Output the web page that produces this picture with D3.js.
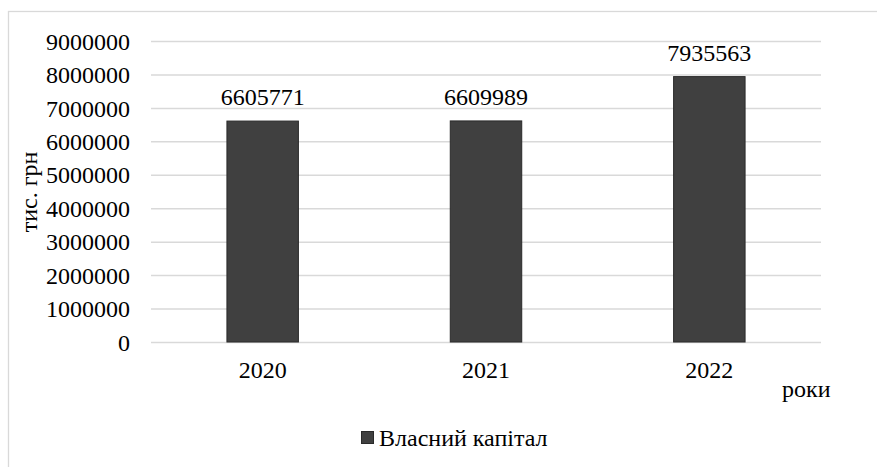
<!DOCTYPE html>
<html>
<head>
<meta charset="utf-8">
<script src="https://cdn.jsdelivr.net/npm/d3@7"></script>
</head>
<body style="margin:0;padding:0;background:#fff">
<svg id="chart" width="877" height="467" font-family="Liberation Serif" style="display:block"></svg>
<script>
// Власний капітал по роках, тис. грн
const years = ["2020", "2021", "2022"];
const equity = [6605771, 6609989, 7935563];
const yTickValues = [0, 1000000, 2000000, 3000000, 4000000, 5000000, 6000000, 7000000, 8000000, 9000000];
const seriesName = "Власний капітал";
const yTitle = "тис. грн";
const xTitle = "роки";

const W = 877, H = 467;
const plot = { left: 151, right: 821, top: 41, bottom: 342 };
const fontSize = 24;
const serif = "Liberation Serif";

const svg = d3.select("#chart");

// chart area frame
svg.append("rect")
  .attr("x", 8.5).attr("y", 11.5)
  .attr("width", W + 10).attr("height", H + 10)
  .attr("fill", "#fff")
  .attr("stroke", "#d9d9d9")
  .attr("stroke-width", 1.3);

const x = d3.scaleBand()
  .domain(years)
  .range([plot.left, plot.right])
  .paddingInner(0.68)
  .paddingOuter(0.34);

const y = d3.scaleLinear()
  .domain([0, 9000000])
  .range([plot.bottom, plot.top]);

// horizontal gridlines
const grid = svg.append("g")
  .attr("transform", `translate(${plot.left},0)`)
  .call(d3.axisLeft(y).tickValues(yTickValues).tickSize(-(plot.right - plot.left)).tickFormat(""));
grid.select(".domain").remove();
grid.selectAll(".tick line").attr("stroke", "#d9d9d9").attr("stroke-width", 1.5);

// y-axis labels
const yAxis = svg.append("g")
  .attr("transform", `translate(${plot.left - 21},0)`)
  .call(d3.axisLeft(y).tickValues(yTickValues).tickSize(0).tickPadding(0).tickFormat(d3.format("d")));
yAxis.attr("font-family", serif).attr("font-size", fontSize);
yAxis.select(".domain").remove();
yAxis.selectAll(".tick text")
  .attr("fill", "#000")
  .attr("dy", "0.34em");

// x-axis labels
const xAxis = svg.append("g")
  .attr("transform", `translate(0,${plot.bottom})`)
  .call(d3.axisBottom(x).tickSize(0).tickPadding(0));
xAxis.attr("font-family", serif).attr("font-size", fontSize);
xAxis.select(".domain").remove();
xAxis.selectAll(".tick text")
  .attr("fill", "#000")
  .attr("dy", null)
  .attr("y", 36);

const data = years.map((yr, i) => ({ year: yr, value: equity[i] }));

// bars
svg.append("g").selectAll("rect")
  .data(data)
  .join("rect")
  .attr("x", d => x(d.year))
  .attr("y", d => y(d.value))
  .attr("width", x.bandwidth())
  .attr("height", d => y(0) - y(d.value))
  .attr("fill", "#404040")
  .attr("stroke", "#2a2a2a")
  .attr("stroke-width", 1);

// value labels
svg.append("g")
  .attr("font-family", serif).attr("font-size", fontSize)
  .selectAll("text")
  .data(data)
  .join("text")
  .attr("x", d => x(d.year) + x.bandwidth() / 2)
  .attr("y", d => y(d.value) - 16)
  .attr("text-anchor", "middle")
  .attr("fill", "#000")
  .text(d => d3.format("d")(d.value));

// axis titles
svg.append("text")
  .attr("transform", "translate(37,192) rotate(-90)")
  .attr("text-anchor", "middle")
  .attr("font-family", serif).attr("font-size", fontSize)
  .attr("fill", "#000")
  .text(yTitle);

svg.append("text")
  .attr("x", 782)
  .attr("y", 397)
  .attr("font-family", serif).attr("font-size", fontSize)
  .attr("fill", "#000")
  .text(xTitle);

// legend
const legend = svg.append("g");
legend.append("rect")
  .attr("x", 361.5).attr("y", 431.5)
  .attr("width", 12).attr("height", 12)
  .attr("fill", "#404040")
  .attr("stroke", "#2a2a2a")
  .attr("stroke-width", 1);
legend.append("text")
  .attr("x", 379)
  .attr("y", 446)
  .attr("font-family", serif).attr("font-size", fontSize)
  .attr("fill", "#000")
  .text(seriesName);
</script>
</body>
</html>
